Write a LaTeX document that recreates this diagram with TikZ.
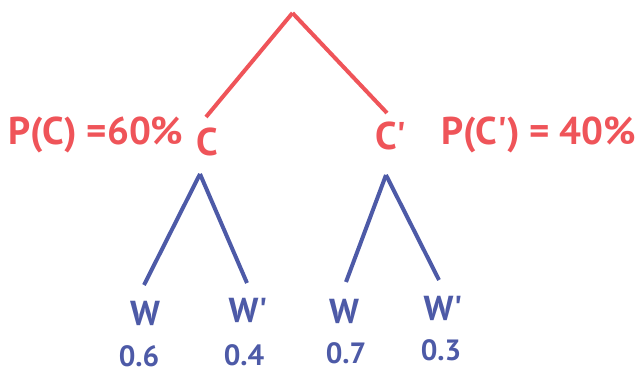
\documentclass[tikz,border=0pt]{standalone}
\usepackage{fontspec}
\setmainfont{PT Sans}
\usetikzlibrary{positioning}
\definecolor{probred}{RGB}{239, 84, 89}
\definecolor{probblue}{RGB}{77, 90, 167}

\tikzset{
    redbranch/.style={draw=probred, line width=3pt},
    bluebranch/.style={draw=probblue, line width=3pt},
    redlabel/.style={text=probred, font=\bfseries\fontsize{29}{29}\selectfont, inner sep=0pt},
    bluelabel/.style={text=probblue, font=\bfseries\fontsize{26}{26}\selectfont, inner sep=0pt},
    problabel/.style={text=probblue, font=\bfseries\fontsize{22}{22}\selectfont, inner sep=0pt}
}

\begin{document}
\begin{tikzpicture}[x=0.75pt, y=-0.75pt]
    \useasboundingbox (0, 0) rectangle (636, 374);
    % first stage: C or C'
    \coordinate (root) at (292.5, 13);
    \node[redlabel] (c) at (207, 142) {C};
    \node[redlabel] (cn) at (391, 136) {C\textquotesingle};
    \node[redlabel] (pc) at (96, 135) {P(C) =60\%};
    \node[redlabel] (pcn) at (539, 135) {P(C\textquotesingle) = 40\%};
    \draw[redbranch] (root) -- ([shift={(-1, -25)}]c.center);
    \draw[redbranch] (root) -- ([shift={(-4, -23)}]cn.center);

    % second stage: W or W'
    \coordinate (csplit) at (200, 174);
    \coordinate (cnsplit) at (386, 175);
    \node[bluelabel] (cw) at (145, 313) {W};
    \node[bluelabel] (cwn) at (248, 310) {W\textquotesingle};
    \node[bluelabel] (cnw) at (344, 311) {W};
    \node[bluelabel] (cnwn) at (443, 308) {W\textquotesingle};
    \draw[bluebranch] (csplit) -- ([shift={(-1, -28)}]cw.center);
    \draw[bluebranch] (csplit) -- ([shift={(-1, -27)}]cwn.center);
    \draw[bluebranch] (cnsplit) -- ([shift={(2, -29)}]cnw.center);
    \draw[bluebranch] (cnsplit) -- ([shift={(-4, -28)}]cnwn.center);

    % conditional probabilities
    \node[problabel] (p1) at (139, 356) {0.6};
    \node[problabel] (p2) at (244, 355) {0.4};
    \node[problabel] (p3) at (346, 353) {0.7};
    \node[problabel] (p4) at (441, 350) {0.3};
\end{tikzpicture}
\end{document}
